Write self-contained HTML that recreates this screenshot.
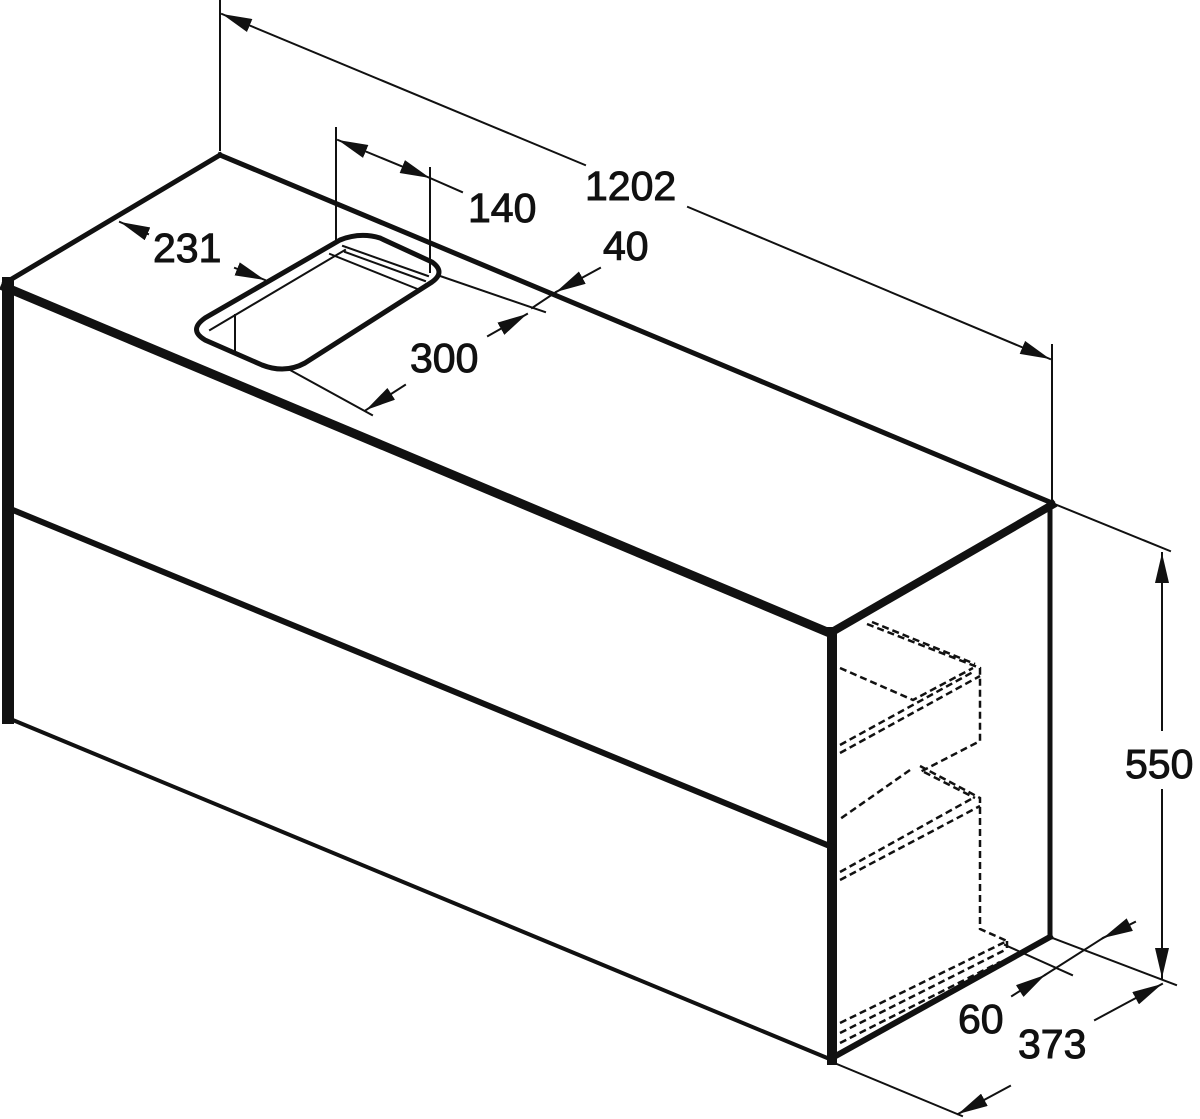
<!DOCTYPE html>
<html><head><meta charset="utf-8"><style>
html,body{margin:0;padding:0;background:#fff;}
svg{display:block;}
text{font-family:"Liberation Sans",Arial,sans-serif;font-size:41px;fill:#111;}
</style></head><body>
<svg width="1200" height="1119" viewBox="0 0 1200 1119" xmlns="http://www.w3.org/2000/svg">
<defs>
<marker id="b" viewBox="0 0 10 10" refX="10" refY="5" markerWidth="30" markerHeight="14" markerUnits="userSpaceOnUse" orient="auto-start-reverse" preserveAspectRatio="none">
<path d="M0,0 L10,5 L0,10 z" fill="#111"/></marker>
</defs>
<g stroke="#111" fill="none" stroke-linecap="square">
<line x1="220" y1="155" x2="5" y2="283" stroke-width="5"/>
<line x1="220" y1="155" x2="1052" y2="503" stroke-width="5"/>
<line x1="5" y1="287" x2="832" y2="634" stroke-width="9"/>
<line x1="832" y1="632" x2="1052" y2="505" stroke-width="8"/>
<line x1="8" y1="283" x2="8" y2="718" stroke-width="12"/>
<line x1="832" y1="632" x2="832" y2="1060" stroke-width="10"/>
<line x1="1050" y1="503" x2="1050" y2="937" stroke-width="5"/>
<line x1="8" y1="508" x2="832" y2="847" stroke-width="6"/>
<line x1="8" y1="718" x2="832" y2="1060" stroke-width="4"/>
<line x1="832" y1="1058" x2="1050" y2="937" stroke-width="6"/>
<path d="M340,240 Q360,232 380,238 L432,262 Q446,272 432,282 L305,363 Q285,374 262,365 L205,340 Q188,330 205,318 Z" stroke-width="5"/>
<path d="M343,246 L428,276 M345,252 L425,281 M210,330 L345,250 M235,350 L235,315 M330,254 L420,290" stroke-width="2"/>
<line x1="220" y1="0" x2="220" y2="150" stroke-width="2"/>
<line x1="1052" y1="345" x2="1052" y2="500" stroke-width="2"/>
<line x1="222" y1="14" x2="585" y2="165" stroke-width="2" marker-start="url(#b)"/>
<line x1="688" y1="207" x2="1050" y2="359" stroke-width="2" marker-end="url(#b)"/>
<text x="585" y="200">1202</text>
<line x1="336" y1="128" x2="336" y2="242" stroke-width="2"/>
<line x1="430" y1="168" x2="430" y2="272" stroke-width="2"/>
<line x1="338" y1="140" x2="430" y2="178" stroke-width="2" marker-start="url(#b)" marker-end="url(#b)"/>
<line x1="430" y1="178" x2="462" y2="192" stroke-width="2"/>
<text x="468" y="222">140</text>
<line x1="120" y1="222" x2="148" y2="234" stroke-width="2" marker-start="url(#b)"/>
<text x="153" y="262">231</text>
<line x1="235" y1="268" x2="265" y2="280" stroke-width="2" marker-end="url(#b)"/>
<line x1="440" y1="276" x2="545" y2="312" stroke-width="2"/>
<line x1="600" y1="268" x2="556" y2="292" stroke-width="2" marker-end="url(#b)"/>
<line x1="556" y1="292" x2="532" y2="308" stroke-width="2"/>
<line x1="488" y1="336" x2="527" y2="314" stroke-width="2" marker-end="url(#b)"/>
<text x="603" y="260">40</text>
<line x1="290" y1="370" x2="372" y2="415" stroke-width="2"/>
<line x1="405" y1="385" x2="366" y2="410" stroke-width="2" marker-end="url(#b)"/>
<text x="410" y="372">300</text>
<line x1="1052" y1="503" x2="1170" y2="551" stroke-width="2"/>
<line x1="1050" y1="937" x2="1176" y2="985" stroke-width="2"/>
<line x1="1162" y1="553" x2="1162" y2="730" stroke-width="2" marker-start="url(#b)"/>
<line x1="1162" y1="790" x2="1162" y2="978" stroke-width="2" marker-end="url(#b)"/>
<text x="1125" y="778">550</text>
<line x1="832" y1="1062" x2="962" y2="1116" stroke-width="2"/>
<line x1="958" y1="1114" x2="1010" y2="1086" stroke-width="2" marker-start="url(#b)"/>
<line x1="1095" y1="1020" x2="1162" y2="984" stroke-width="2" marker-end="url(#b)"/>
<text x="1018" y="1058">373</text>
<line x1="1005" y1="945" x2="1072" y2="975" stroke-width="2"/>
<line x1="1012" y1="996" x2="1045" y2="975" stroke-width="2" marker-end="url(#b)"/>
<line x1="1045" y1="975" x2="1103" y2="938" stroke-width="2"/>
<line x1="1135" y1="922" x2="1103" y2="938" stroke-width="2" marker-end="url(#b)"/>
<text x="958" y="1033">60</text>
</g>
<g stroke="#111" fill="none" stroke-width="2.5" stroke-dasharray="7,4">
<path d="M867,624 L980,668 L980,741 L920,772"/>
<path d="M872,622 L975,664"/>
<path d="M840,668 L913,700 L973,668"/>
<path d="M840,745 L973,672"/>
<path d="M840,753 L980,676"/>
<path d="M920,766 L980,798 L980,929 L1007,941"/>
<path d="M924,772 L975,798"/>
<path d="M910,770 L840,819"/>
<path d="M840,872 L973,798"/>
<path d="M840,880 L980,806"/>
<path d="M840,1023 L1007,941"/>
<path d="M840,1033 L1005,950"/>
<path d="M840,1043 L1000,962"/>
<path d="M1007,941 L1007,952"/>
</g>
</svg>
</body></html>
